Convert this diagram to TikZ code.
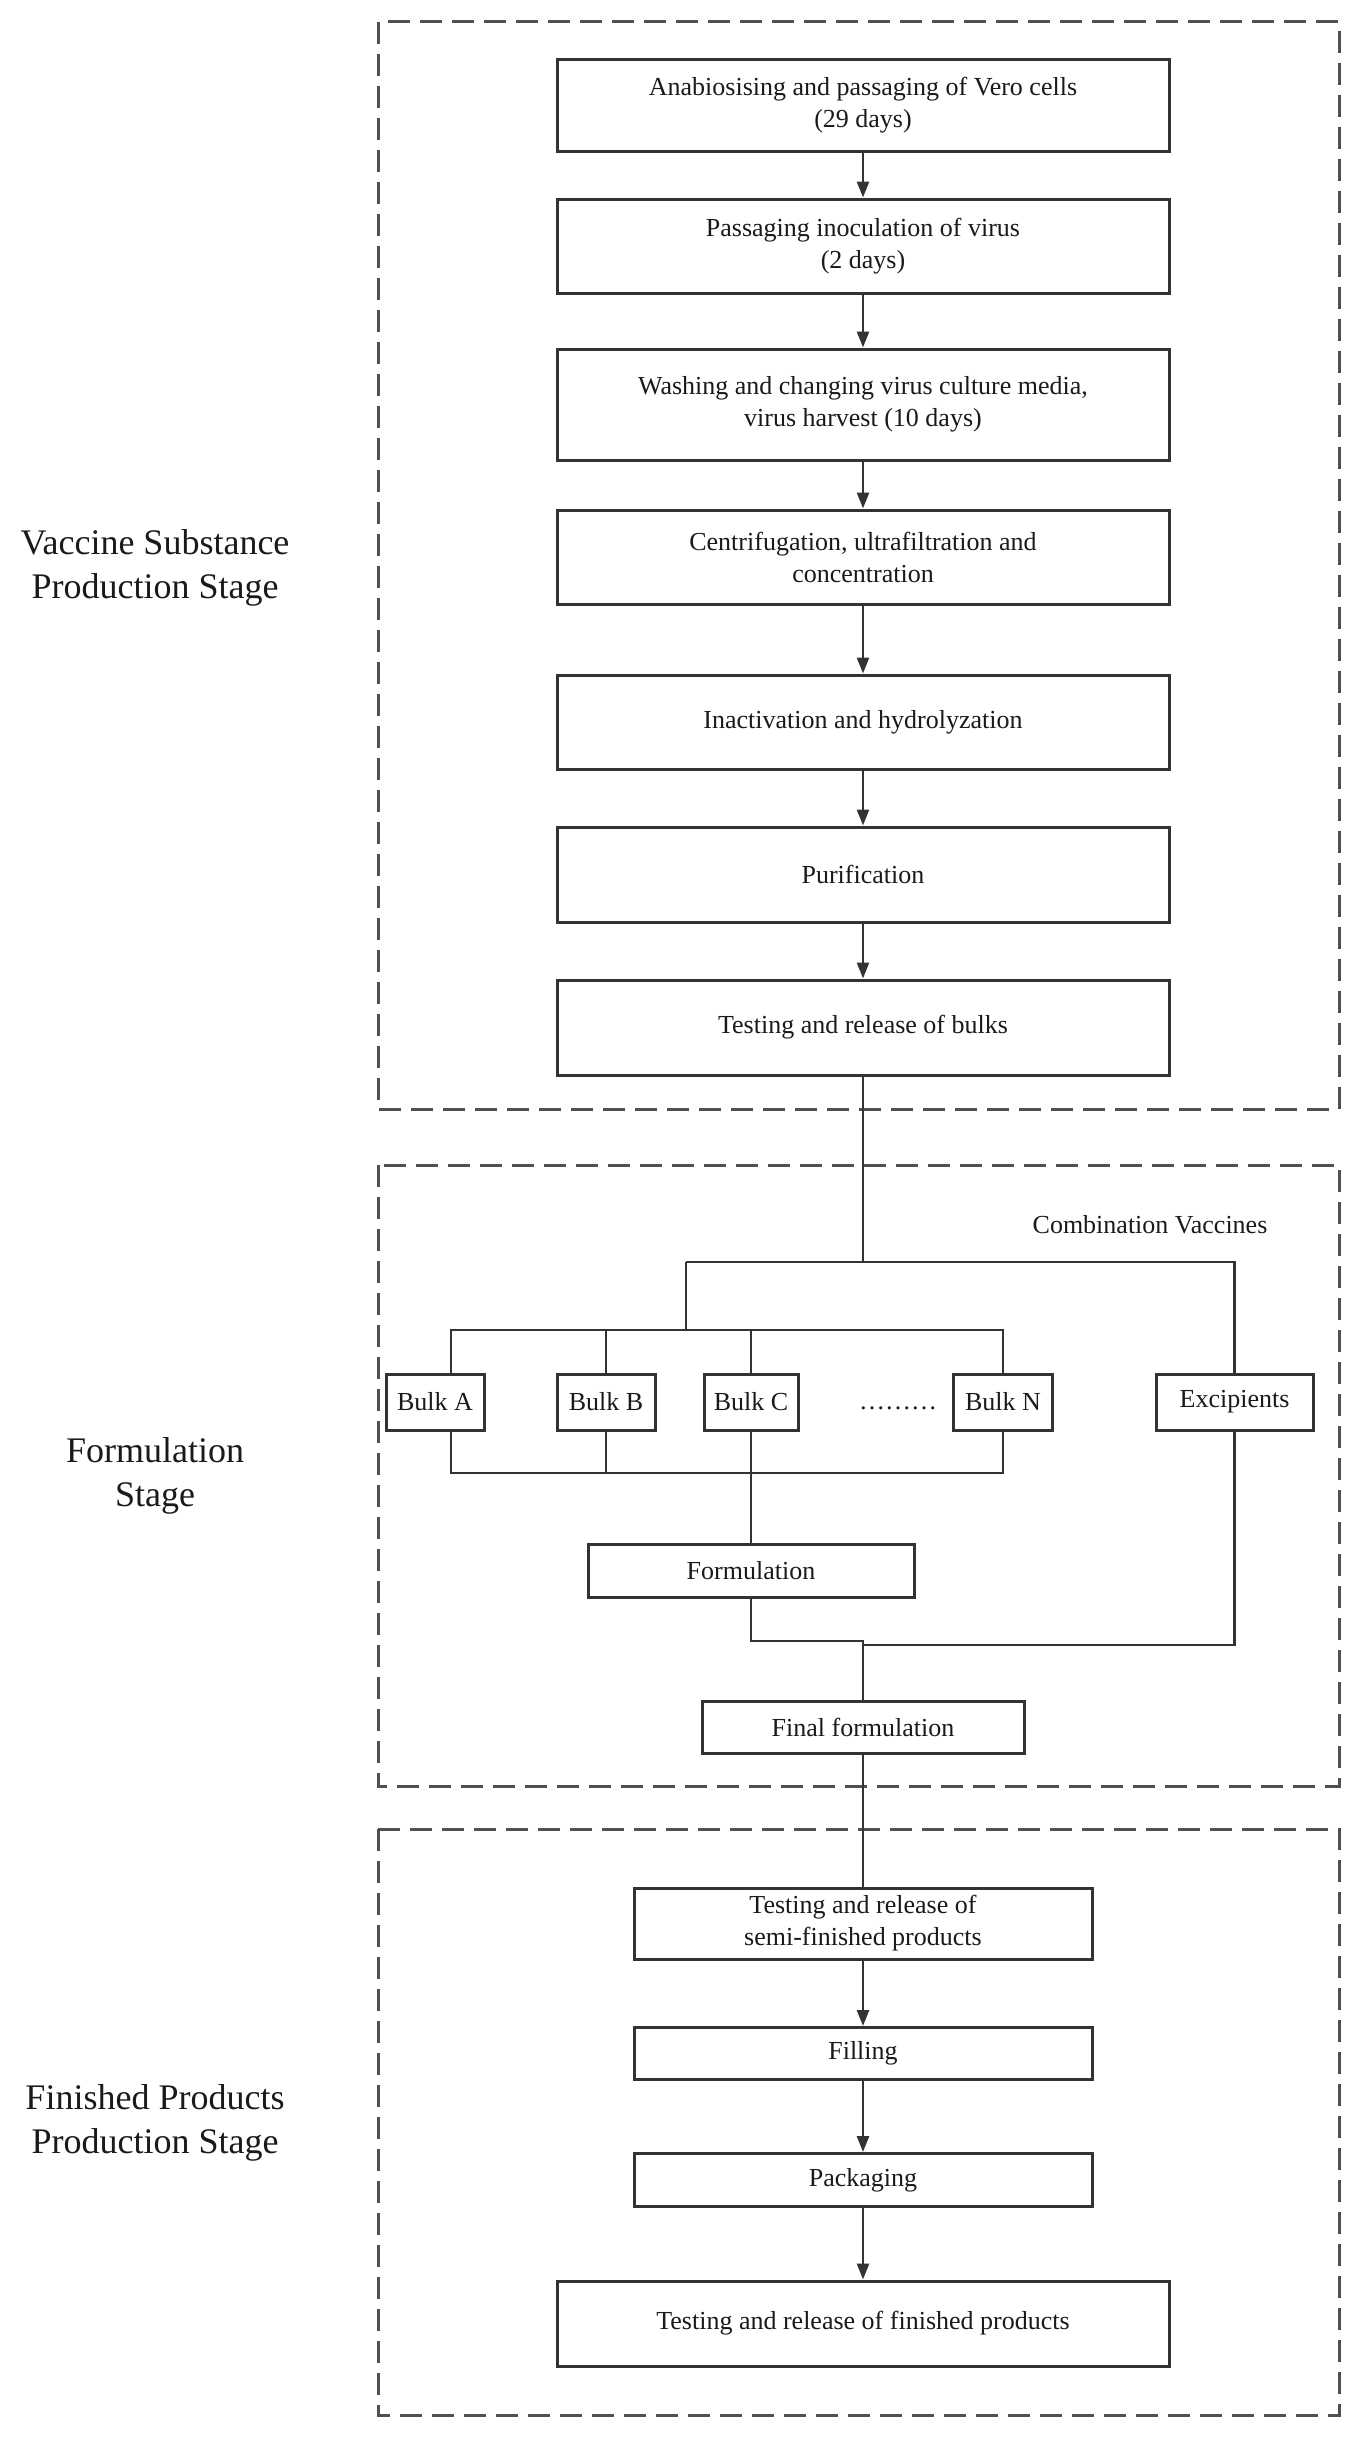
\documentclass[tikz,border=0pt]{standalone}
\usepackage{fontspec}
\setmainfont{Liberation Serif}
\usetikzlibrary{arrows.meta}
\definecolor{linec}{HTML}{333333}
\definecolor{dashc}{HTML}{505050}
\definecolor{textc}{HTML}{1A1A1A}
\begin{document}
\begin{tikzpicture}[x=1pt,y=-1pt,
  stepbox/.style={draw=linec, line width=3pt, fill=white, align=center, inner sep=0pt, text=textc, font=\fontsize{26}{32}\selectfont},
  conn/.style={draw=linec, line width=2.6pt},
  arr/.style={conn, -{Triangle[width=12pt,length=16pt]}},
  stageframe/.style={draw=dashc, line width=3pt, dash pattern=on 22pt off 10pt},
  stagelabel/.style={align=center, text=textc, font=\fontsize{36}{44}\selectfont, inner sep=0pt},
  plaintext/.style={text=textc, font=\fontsize{26}{32}\selectfont, inner sep=0pt}
]
\useasboundingbox (0,0) rectangle (1370,2446);

% stage frames
\draw[stageframe] (378,22) rectangle (1339,1109);
\draw[stageframe] (378,1165) rectangle (1339,1786);
\draw[stageframe] (378,1829) rectangle (1339,2415);

% stage labels
\node[stagelabel] (s1) at (155,568) {Vaccine Substance\\Production Stage};
\node[stagelabel] (s2) at (155,1476) {Formulation\\Stage};
\node[stagelabel] (s3) at (155,2123) {Finished Products\\Production Stage};

% vaccine substance stage
\node[stepbox, minimum width=612pt, minimum height=91pt] (b1) at (863,105.5) {Anabiosising and passaging of Vero cells\\(29 days)};
\node[stepbox, minimum width=612pt, minimum height=94pt] (b2) at (863,246) {Passaging inoculation of virus\\(2 days)};
\node[stepbox, minimum width=612pt, minimum height=111pt] (b3) at (863,404.5) {Washing and changing virus culture media,\\virus harvest (10 days)};
\node[stepbox, minimum width=612pt, minimum height=94pt] (b4) at (863,557) {Centrifugation, ultrafiltration and\\concentration};
\node[stepbox, minimum width=612pt, minimum height=94pt] (b5) at (863,722) {Inactivation and hydrolyzation};
\node[stepbox, minimum width=612pt, minimum height=95pt] (b6) at (863,874.5) {Purification};
\node[stepbox, minimum width=612pt, minimum height=95pt] (b7) at (863,1027.5) {Testing and release of bulks};

\draw[arr] (b1) -- (b2);
\draw[arr] (b2) -- (b3);
\draw[arr] (b3) -- (b4);
\draw[arr] (b4) -- (b5);
\draw[arr] (b5) -- (b6);
\draw[arr] (b6) -- (b7);

% formulation stage
\node[plaintext] (combo) at (1150,1225) {Combination Vaccines};
\node[stepbox, minimum width=98pt, minimum height=56pt] (bA) at (435,1402) {Bulk A};
\node[stepbox, minimum width=98pt, minimum height=56pt] (bB) at (606,1402) {Bulk B};
\node[stepbox, minimum width=94pt, minimum height=56pt] (bC) at (751,1402) {Bulk C};
\node[stepbox, minimum width=99pt, minimum height=56pt] (bN) at (1003,1402) {Bulk N};
\node[stepbox, minimum width=157pt, minimum height=56pt] (exc) at (1234.5,1402) {Excipients};
\node[plaintext] (dots) at (898,1408) {………};
\node[stepbox, minimum width=326pt, minimum height=53pt] (form) at (751,1570.5) {Formulation};
\node[stepbox, minimum width=322pt, minimum height=52pt] (final) at (863,1727) {Final formulation};

\coordinate (jtop) at (863,1262);
\coordinate (jl) at (686,1262);
\coordinate (barL) at (451,1330);
\coordinate (barR) at (1003,1330);
\coordinate (lowL) at (451,1473);
\coordinate (lowR) at (1003,1473);
\coordinate (fj) at (863,1641);
\coordinate (ej) at (863,1645);

\draw[conn] (b7) -- (jtop);
\draw[conn] (jl) -- (jtop) -- (exc.north |- jtop) -- (exc);
\draw[conn] (jl) -- (jl |- barL);
\draw[conn] (barL |- bA.north) -- (barL) -- (barR) -- (bN);
\draw[conn] (bB.north |- barL) -- (bB);
\draw[conn] (bC.north |- barL) -- (bC);
\draw[conn] (bA.south -| lowL) -- (lowL) -- (lowR) -- (bN);
\draw[conn] (bB) -- (bB.south |- lowL);
\draw[conn] (bC) -- (form);
\draw[conn] (form) -- (form.south |- fj) -- (fj) -- (final);
\draw[conn] (exc) -- (exc.south |- ej) -- (ej);

% finished products stage
\node[stepbox, minimum width=458pt, minimum height=71pt] (semi) at (863,1923.5) {Testing and release of\\semi-finished products};
\node[stepbox, minimum width=458pt, minimum height=52pt] (fill) at (863,2053.5) {Filling};
\node[stepbox, minimum width=458pt, minimum height=53pt] (pack) at (863,2180) {Packaging};
\node[stepbox, minimum width=612pt, minimum height=85pt] (fin) at (863,2323.5) {Testing and release of finished products};

\draw[conn] (final) -- (semi);
\draw[arr] (semi) -- (fill);
\draw[arr] (fill) -- (pack);
\draw[arr] (pack) -- (fin);
\end{tikzpicture}
\end{document}
